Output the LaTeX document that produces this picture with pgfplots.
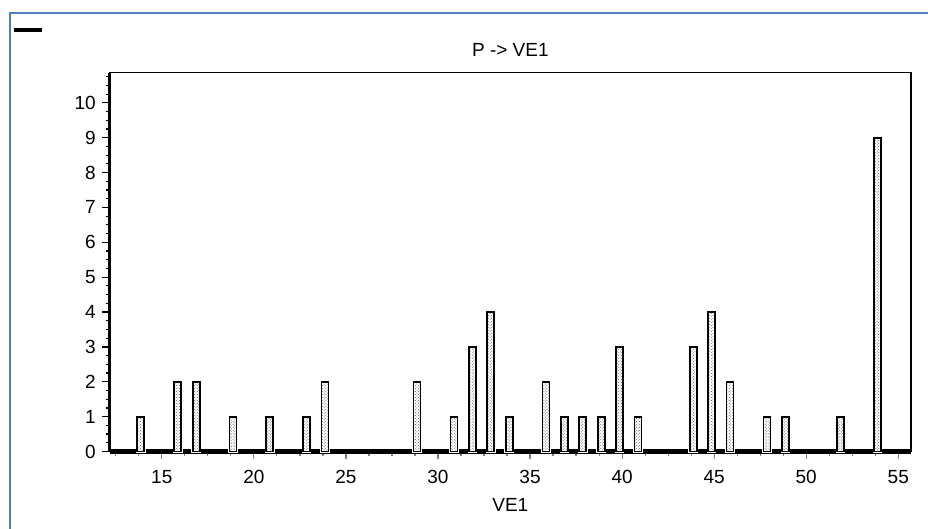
\documentclass[border=0pt]{standalone}
\usepackage{fontspec}
\setmainfont{Liberation Sans}
\usepackage{pgfplots}
\pgfplotsset{compat=1.18}
\usetikzlibrary{patterns}
\definecolor{frameblue}{RGB}{79,129,189}
\definecolor{tickgray}{RGB}{128,128,128}

\pgfplotstableread{
x y
14 1
16 2
17 2
19 1
21 1
23 1
24 2
29 2
31 1
32 3
33 4
34 1
36 2
37 1
38 1
39 1
40 3
41 1
44 3
45 4
46 2
48 1
49 1
52 1
54 9
}\counts

\begin{document}
\fontsize{19bp}{22bp}\selectfont
\begin{tikzpicture}
\useasboundingbox (0,0) rectangle (928bp,-529bp);
\draw[frameblue, line width=2bp] (10bp,-529bp) -- (10bp,-13bp) -- (928bp,-13bp);
\draw[black, line width=4bp] (14bp,-29.7bp) -- (42bp,-29.7bp);
\begin{axis}[
  at={(109.7bp,-451.5bp)}, anchor=south west,
  width=801.3bp, height=379bp, scale only axis,
  xmin=12.17, xmax=55.69, ymin=0, ymax=10.87,
  xtick={15,20,...,55}, minor xtick={12.5,13.75,...,55},
  ytick={0,...,10}, minor ytick={0,0.25,...,10.75},
  tick pos=left,
  tick align=outside,
  major tick length=7.5bp, minor tick length=4bp,
  xtick style={tickgray, line width=1.2bp},
  ytick style={black, line width=1.2bp},
  xticklabel style={font=\fontsize{19bp}{22bp}\selectfont, yshift=-5bp},
  yticklabel style={font=\fontsize{19bp}{22bp}\selectfont},
  /pgf/number format/assume math mode=true,
  axis line style={line width=1.5bp},
  title={P -> VE1},
  title style={font=\fontsize{19bp}{22bp}\selectfont, yshift=3bp},
  xlabel={VE1},
  xlabel style={font=\fontsize{19bp}{22bp}\selectfont, yshift=-2bp},
  clip=false,
  ]
  \addplot[black, line width=5bp, line cap=butt, forget plot] coordinates {(12.17,0) (55.69,0)};
  \addplot[ybar, bar width=7bp, bar shift=-2.5bp, draw=white, line width=2.6bp, fill=white, forget plot] table {\counts};
  \addplot[ybar, bar width=7bp, bar shift=-2.5bp, draw=black, line width=1.8bp, pattern=crosshatch dots, pattern color=black!65, forget plot] table {\counts};
  \draw[line width=3.5bp] (rel axis cs:0,0) -- (rel axis cs:0,1);
\end{axis}
\end{tikzpicture}
\end{document}
